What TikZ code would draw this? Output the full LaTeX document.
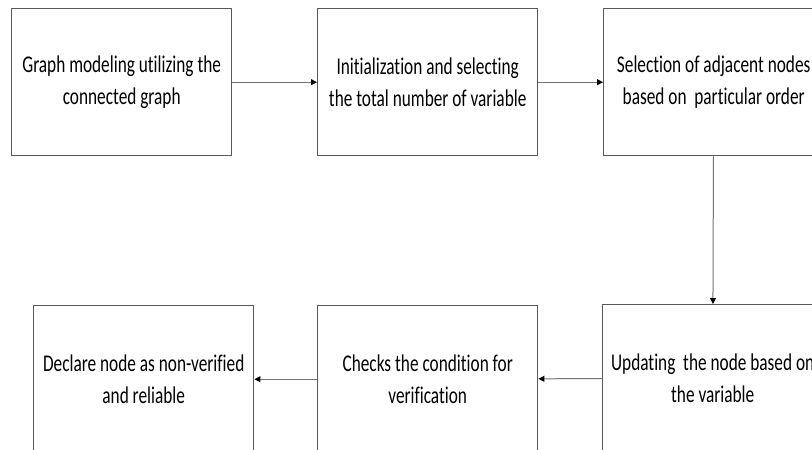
\documentclass[tikz,border=0pt]{standalone}
\usepackage{fontspec}
\setmainfont[FakeStretch=0.72,Ligatures={NoCommon}]{Carlito}
\usetikzlibrary{arrows.meta}
\tikzset{
  box/.style={draw=black!65, line width=1.4bp, minimum width=220bp, minimum height=147bp,
    anchor=north west, align=center, inner sep=0pt,
    font=\fontsize{24bp}{32bp}\selectfont},
  conn/.style={draw=black!55, line width=1bp, -{Triangle[length=6bp,width=6bp,black]}}
}
\begin{document}
\begin{tikzpicture}[x=1bp,y=-1bp]
\useasboundingbox (0,0) rectangle (812,450);
\clip (0,0) rectangle (812,450);
\node[box] (b1) at (11,8) {Graph modeling utilizing the\\connected graph};
\node[box] (b2) at (317,8) {Initialization and selecting\\the total number of variable};
\node[box] (b3) at (603,8) {Selection of adjacent nodes\\based on\ \ particular order};
\node[box] (b4) at (33,305) {Declare node as non-verified\\and reliable};
\node[box] (b5) at (317,305) {Checks the condition for\\verification};
\node[box] (b6) at (602,304) {Updating\ \ the node based on\\the variable};
\draw[conn] (b1) -- (b2);
\draw[conn] (b2) -- (b3);
\draw[conn] (b3) -- (b6);
\draw[conn] (b6) -- (b5);
\draw[conn] (b5) -- (b4);
\end{tikzpicture}
\end{document}
